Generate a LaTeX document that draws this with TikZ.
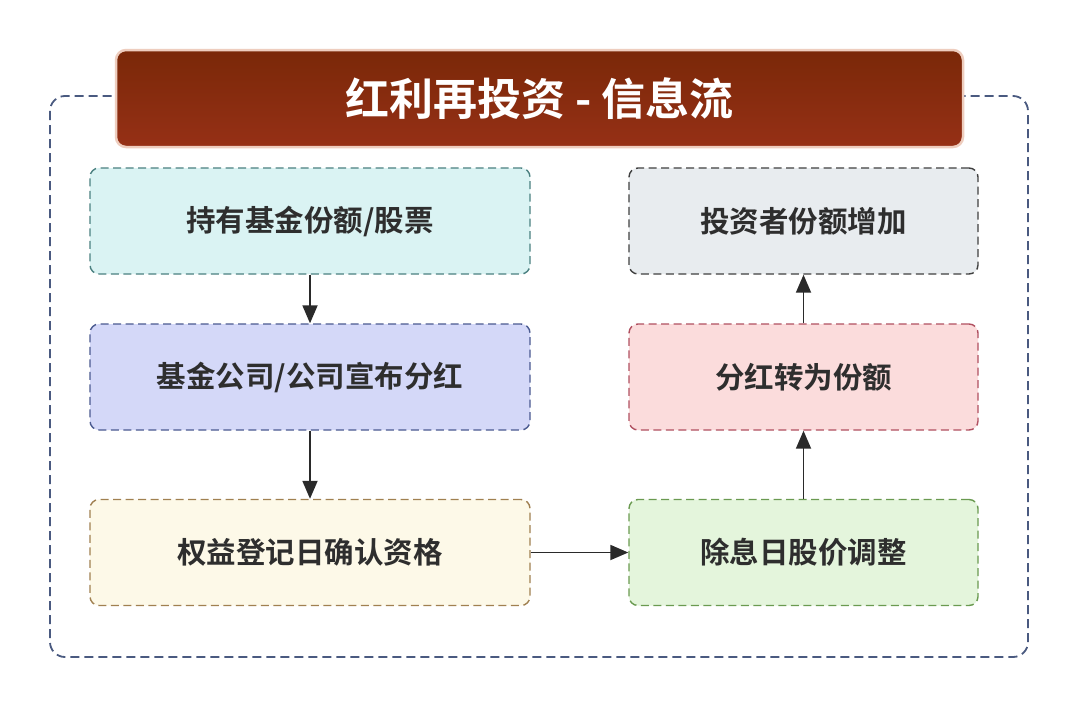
\documentclass[tikz,border=0pt]{standalone}
\usepackage{fontspec}
\newfontfamily\cjk{Noto Sans CJK SC}[BoldFont={Noto Sans CJK SC Bold}]
\usetikzlibrary{arrows.meta}
\definecolor{outerc}{HTML}{4A5A80}
\definecolor{txtc}{HTML}{2E2E2E}
\definecolor{arrc}{HTML}{2A2A2A}
\tikzset{
  stepbox/.style={draw, dashed, dash pattern=on 8pt off 4.5pt, line width=1.4pt, rounded corners=9pt,
    minimum height=106pt, inner sep=0pt, font=\cjk\bfseries\fontsize{29.5}{34}\selectfont, text=txtc},
  wide/.style={minimum width=440pt},
  narrow/.style={minimum width=349pt},
  flow/.style={draw=arrc, line width=1.8pt, -{Triangle[length=18pt,width=15pt]}},
}
\begin{document}
\begin{tikzpicture}[x=1pt,y=-1pt]
\useasboundingbox[fill=white] (0,0) rectangle (1078,707);
\draw[outerc, line width=1.8pt, dash pattern=on 9pt off 5pt, rounded corners=15pt] (50,96) rectangle (1028,657);
\node[draw={rgb,255:red,238;green,205;blue,190}, line width=2.5pt, rounded corners=10pt,
  top color={rgb,255:red,122;green,40;blue,8}, bottom color={rgb,255:red,150;green,48;blue,22},
  minimum width=847pt, minimum height=97pt, text=white, font=\cjk\bfseries\fontsize{44}{50}\selectfont]
  (title) at (539.5,98.5) {红利再投资 - 信息流};
\node[stepbox, wide, fill={rgb,255:red,218;green,243;blue,243}, draw={rgb,255:red,74;green,128;blue,128}] (b1) at (310,221) {持有基金份额/股票};
\node[stepbox, wide, fill={rgb,255:red,212;green,216;blue,248}, draw={rgb,255:red,74;green,90;blue,144}] (b2) at (310,377) {基金公司/公司宣布分红};
\node[stepbox, wide, fill={rgb,255:red,253;green,249;blue,232}, draw={rgb,255:red,160;green,128;blue,80}] (b3) at (310,552.5) {权益登记日确认资格};
\node[stepbox, narrow, fill={rgb,255:red,228;green,245;blue,220}, draw={rgb,255:red,106;green,154;blue,80}] (b4) at (803.5,552.5) {除息日股价调整};
\node[stepbox, narrow, fill={rgb,255:red,251;green,220;blue,220}, draw={rgb,255:red,176;green,80;blue,96}] (b5) at (803.5,377) {分红转为份额};
\node[stepbox, narrow, fill={rgb,255:red,232;green,236;blue,239}, draw={rgb,255:red,64;green,64;blue,64}] (b6) at (803.5,221) {投资者份额增加};
\draw[flow] (b1) -- (b2);
\draw[flow] (b2) -- (b3);
\draw[flow] (b3) -- (b4);
\draw[flow] (b4) -- (b5);
\draw[flow] (b5) -- (b6);
\end{tikzpicture}
\end{document}
